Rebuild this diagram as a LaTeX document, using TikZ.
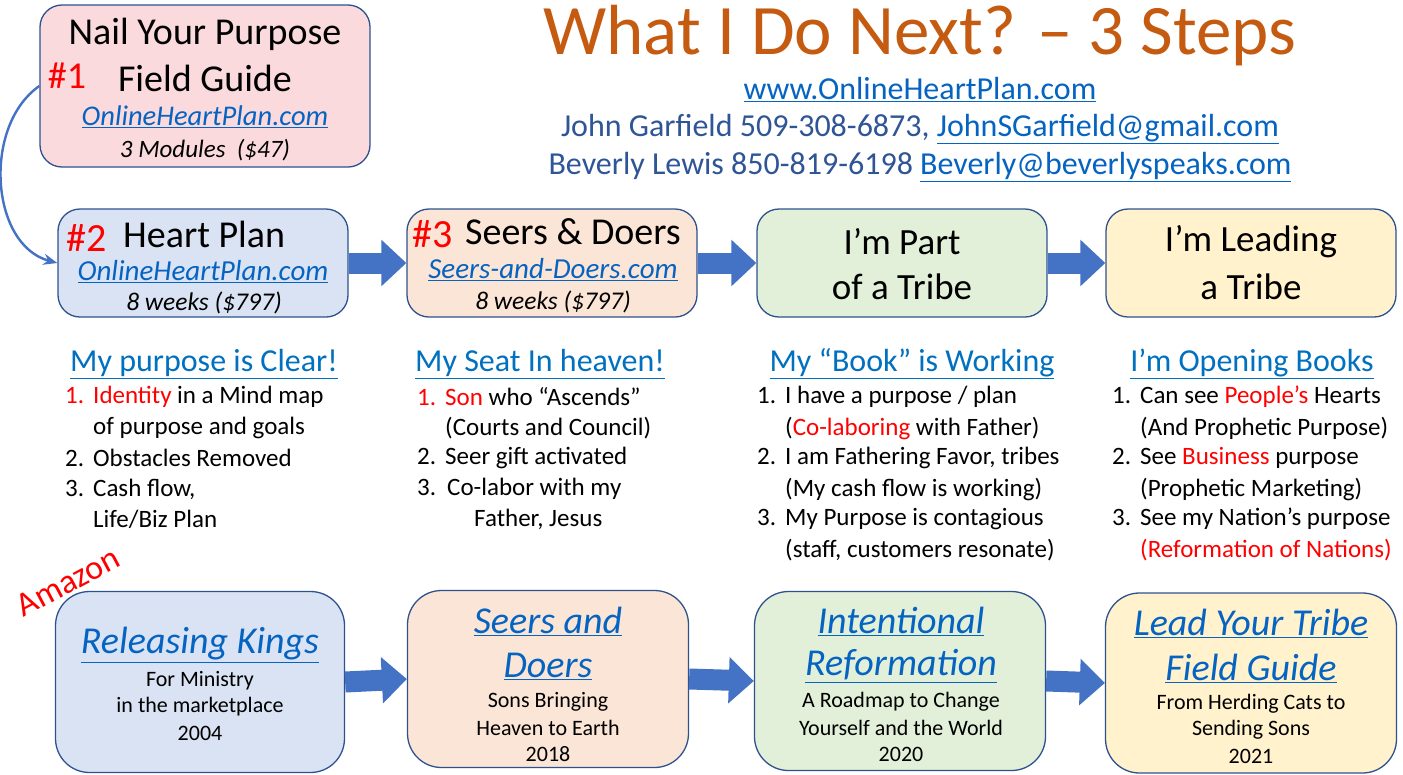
\documentclass[tikz,border=0pt]{standalone}
\usepackage{fontspec}
\setmainfont{Carlito}
\usetikzlibrary{arrows.meta}
\definecolor{boxline}{RGB}{47,82,143}
\definecolor{arrowblue}{RGB}{68,114,196}
\definecolor{linkblue}{RGB}{5,99,193}
\definecolor{headblue}{RGB}{0,112,192}
\definecolor{contactblue}{RGB}{47,85,151}
\definecolor{titleorange}{RGB}{197,90,17}
\definecolor{pinkfill}{RGB}{250,218,220}
\definecolor{bluefill}{RGB}{218,227,243}
\definecolor{peachfill}{RGB}{251,229,214}
\definecolor{greenfill}{RGB}{226,240,217}
\definecolor{yellowfill}{RGB}{255,242,204}
\newcommand{\fsz}[1]{\fontsize{#1}{#1}\selectfont}
\newcommand{\lnk}[1]{\textcolor{linkblue}{\underline{#1}}}
\newcommand{\hlnk}[1]{\textcolor{headblue}{\underline{#1}}}
\newcommand{\rd}[1]{\textcolor{red}{#1}}
\newcommand{\num}[1]{\makebox[28pt][l]{#1}}
\begin{document}
\begin{tikzpicture}[x=1pt,y=-1pt,
  box/.style={draw=boxline, line width=1.3pt, rounded corners=22pt, inner sep=0pt},
  bbox/.style={draw=boxline, line width=1.3pt, rounded corners=34pt, inner sep=0pt},
  txt/.style={inner sep=0pt, text=black},
  lst/.style={inner sep=0pt, anchor=west, text=black, font=\fsz{25}},
  blockarrow/.style={draw=arrowblue, line width=21pt, -{Triangle[length=25pt,width=45pt]}},
  curvearrow/.style={draw=arrowblue, line width=2.4pt, -{Stealth[length=14pt,width=11pt]}}
]
\useasboundingbox[fill=white] (0,0) rectangle (1403,774);

% Title and contacts
\node[txt] (title) at (920,36) {\fsz{71}\color{titleorange}What I Do Next? – 3 Steps};
\node[txt] (www) at (920,90) {\fsz{32}\lnk{www.OnlineHeartPlan.com}};
\node[txt] (john) at (920,129) {\fsz{32}\color{contactblue}John Garfield 509-308-6873, \lnk{JohnSGarfield@gmail.com}};
\node[txt] (bev) at (920,167) {\fsz{32}\color{contactblue}Beverly Lewis 850-819-6198 \lnk{Beverly@beverlyspeaks.com}};

% Box 1
\node[box, fill=pinkfill, minimum width=330pt, minimum height=162pt] (b1) at (205,86) {};
\node[txt] (b1a) at (205,34) {\fsz{38}Nail Your Purpose};
\node[txt] (b1b) at (205,78) {\fsz{38}Field Guide};
\node[txt] (b1n) at (67,76) {\fsz{38}\rd{\#1}};
\node[txt] (b1c) at (205,117) {\fsz{28.5}\lnk{\textit{OnlineHeartPlan.com}}};
\node[txt] (b1d) at (205,150) {\fsz{25}\textit{3 Modules\ \ (\$47)}};

% Top row
\node[box, fill=bluefill, minimum width=290pt, minimum height=108pt] (hp) at (203,263) {};
\node[txt] (hpn) at (87,238) {\fsz{40}\rd{\#2}};
\node[txt, anchor=west] (hpa) at (123,234) {\fsz{38}Heart Plan};
\node[txt] (hpb) at (203,272) {\fsz{29}\lnk{\textit{OnlineHeartPlan.com}}};
\node[txt] (hpc) at (204,303) {\fsz{25.5}\textit{8 weeks (\$797)}};

\node[box, fill=peachfill, minimum width=290pt, minimum height=108pt] (sd) at (552,263) {};
\node[txt] (sdn) at (433,234) {\fsz{40}\rd{\#3}};
\node[txt, anchor=west] (sda) at (465,232) {\fsz{38}Seers \& Doers};
\node[txt] (sdb) at (553,270) {\fsz{29}\lnk{\textit{Seers-and-Doers.com}}};
\node[txt] (sdc) at (553,302) {\fsz{25.5}\textit{8 weeks (\$797)}};

\node[box, fill=greenfill, minimum width=290pt, minimum height=108pt] (pt) at (902,263) {};
\node[txt] (pta) at (902,242) {\fsz{37}I’m Part};
\node[txt] (ptb) at (902,287) {\fsz{37}of a Tribe};

\node[box, fill=yellowfill, minimum width=290pt, minimum height=108pt] (ld) at (1251,263) {};
\node[txt] (lda) at (1251,242) {\fsz{37}I’m Leading};
\node[txt] (ldb) at (1251,287) {\fsz{37}a Tribe};

\draw[blockarrow] (hp.east) -- (sd.west);
\draw[blockarrow] (sd.east) -- (pt.west);
\draw[blockarrow] (pt.east) -- (ld.west);
\draw[curvearrow] (b1.west) to[out=215,in=165] (hp.west);

% Headings
\node[txt] (h1) at (204,364) {\fsz{32}\hlnk{My purpose is Clear!}};
\node[txt] (h2) at (540,364) {\fsz{32}\hlnk{My Seat In heaven!}};
\node[txt] (h3) at (912,364) {\fsz{32}\hlnk{My “Book” is Working}};
\node[txt] (h4) at (1252,364) {\fsz{32}\hlnk{I’m Opening Books}};

% Lists
\node[lst] (l11) at (65,397) {\num{\rd{1.}}\rd{Identity} in a Mind map};
\node[lst] (l12) at (93,428) {of purpose and goals};
\node[lst] (l13) at (65,458) {\num{2.}Obstacles Removed};
\node[lst] (l14) at (65,489) {\num{3.}Cash flow,};
\node[lst] (l15) at (93,519) {Life/Biz Plan};

\node[lst] (l21) at (417,397) {\num{\rd{1.}}\rd{Son} who “Ascends”};
\node[lst] (l22) at (445,428) {(Courts and Council)};
\node[lst] (l23) at (417,458) {\num{2.}Seer gift activated};
\node[lst] (l24) at (417,489) {\makebox[30pt][l]{3.}Co-labor with my};
\node[lst] (l25) at (474,519) {Father, Jesus};

\node[lst] (l31) at (757,397) {\num{1.}I have a purpose / plan};
\node[lst] (l32) at (785,428) {(\rd{Co-laboring} with Father)};
\node[lst] (l33) at (757,458) {\num{2.}I am Fathering Favor, tribes};
\node[lst] (l34) at (785,489) {(My cash flow is working)};
\node[lst] (l35) at (757,519) {\num{3.}My Purpose is contagious};
\node[lst] (l36) at (785,550) {(staff, customers resonate)};

\node[lst] (l41) at (1112,397) {\num{1.}Can see \rd{People’s} Hearts};
\node[lst] (l42) at (1140,428) {(And Prophetic Purpose)};
\node[lst] (l43) at (1112,458) {\num{2.}See \rd{Business} purpose};
\node[lst] (l44) at (1140,489) {(Prophetic Marketing)};
\node[lst] (l45) at (1112,519) {\num{3.}See my Nation’s purpose};
\node[lst] (l46) at (1140,550) {\rd{(Reformation of Nations)}};

% Amazon
\node[txt, rotate=28] (amz) at (68,582) {\fsz{34}\rd{Amazon}};

% Bottom row
\node[bbox, fill=bluefill, minimum width=289pt, minimum height=181pt] (k1) at (200,682) {};
\node[txt] (k1a) at (200,645) {\fsz{38}\lnk{\textit{Releasing Kings}}};
\node[txt] (k1b) at (200,681) {\fsz{22}For Ministry};
\node[txt] (k1c) at (200,707) {\fsz{22}in the marketplace};
\node[txt] (k1d) at (200,733) {\fsz{22}2004};

\node[bbox, fill=peachfill, minimum width=281pt, minimum height=177pt] (k2) at (548,679) {};
\node[txt] (k2a) at (548,621) {\fsz{38}\lnk{\textit{Seers and}}};
\node[txt] (k2b) at (548,666) {\fsz{38}\lnk{\textit{Doers}}};
\node[txt] (k2c) at (548,702) {\fsz{22}Sons Bringing};
\node[txt] (k2d) at (548,728) {\fsz{22}Heaven to Earth};
\node[txt] (k2e) at (548,754) {\fsz{22}2018};

\node[bbox, fill=greenfill, minimum width=291pt, minimum height=179pt] (k3) at (900,681) {};
\node[txt] (k3a) at (901,621) {\fsz{38}\lnk{\textit{Intentional}}};
\node[txt] (k3b) at (901,666) {\fsz{38}\lnk{\textit{Reformation}}};
\node[txt] (k3c) at (901,702) {\fsz{22}A Roadmap to Change};
\node[txt] (k3d) at (901,728) {\fsz{22}Yourself and the World};
\node[txt] (k3e) at (901,754) {\fsz{22}2020};

\node[bbox, fill=yellowfill, minimum width=291pt, minimum height=180pt] (k4) at (1251,683) {};
\node[txt] (k4a) at (1251,623) {\fsz{38}\lnk{\textit{Lead Your Tribe}}};
\node[txt] (k4b) at (1251,668) {\fsz{38}\lnk{\textit{Field Guide}}};
\node[txt] (k4c) at (1251,704) {\fsz{22}From Herding Cats to};
\node[txt] (k4d) at (1251,730) {\fsz{22}Sending Sons};
\node[txt] (k4e) at (1251,756) {\fsz{22}2021};

\draw[blockarrow] (k1.east) -- (k2.west);
\draw[blockarrow] (k2.east) -- (k3.west);
\draw[blockarrow] (k3.east) -- (k4.west);
\end{tikzpicture}
\end{document}
